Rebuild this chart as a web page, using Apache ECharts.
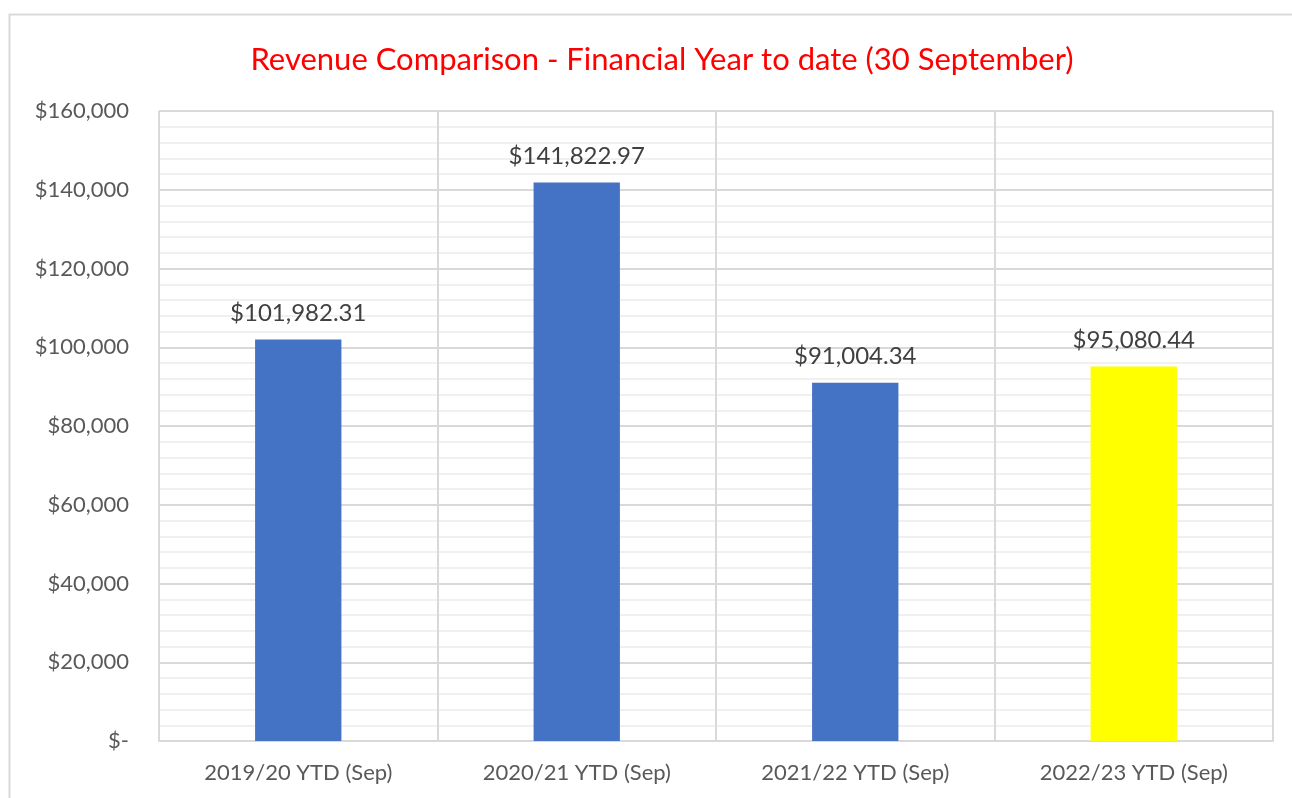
<!DOCTYPE html>
<html>
<head>
<meta charset="utf-8">
<script src="https://cdn.jsdelivr.net/npm/echarts@6/dist/echarts.min.js"></script>
<style>
html,body{margin:0;padding:0;background:#fff;}
#chart{width:1292px;height:798px;}
</style>
</head>
<body>
<div id="chart"></div>
<script>
const categories = ['2019/20 YTD (Sep)', '2020/21 YTD (Sep)', '2021/22 YTD (Sep)', '2022/23 YTD (Sep)'];
const revenue = [101982.31, 141822.97, 91004.34, 95080.44];
const barColors = ['#4472C4', '#4472C4', '#4472C4', '#FFFF00'];
const yTicks = [0, 20000, 40000, 60000, 80000, 100000, 120000, 140000, 160000];
const titleText = 'Revenue Comparison - Financial Year to date (30 September)';

const FONT = 'Lato, "Open Sans", sans-serif';
const fmtMoney = v => '$' + v.toLocaleString('en-US', {minimumFractionDigits: 2, maximumFractionDigits: 2});
const fmtAxis = v => v === 0 ? '$-' : '$' + v.toLocaleString('en-US');

const chart = echarts.init(document.getElementById('chart'), null, {renderer: 'canvas'});
chart.setOption({
  animation: false,
  backgroundColor: '#fff',
  graphic: [{
    type: 'rect',
    shape: {x: 9.5, y: 14.5, width: 1300, height: 800},
    style: {fill: 'none', stroke: '#d9d9d9', lineWidth: 2},
    silent: true,
    z: -1
  }],
  title: {
    text: titleText,
    left: 657,
    textAlign: 'center',
    top: 39,
    textStyle: {color: '#FF0000', fontFamily: FONT, fontSize: 31, fontWeight: 'normal'}
  },
  grid: {left: 159, right: 19, top: 111, bottom: 57, show: true, borderColor: '#d9d9d9', borderWidth: 1},
  xAxis: {
    type: 'category',
    data: categories,
    axisLine: {show: true, lineStyle: {color: '#d9d9d9', width: 2}},
    axisTick: {show: false},
    splitLine: {show: true, lineStyle: {color: '#d9d9d9', width: 2}},
    axisLabel: {color: '#595959', fontFamily: FONT, fontSize: 22, margin: 21}
  },
  yAxis: {
    type: 'value',
    min: yTicks[0],
    max: yTicks[yTicks.length - 1],
    interval: yTicks[1] - yTicks[0],
    axisLine: {show: false},
    axisTick: {show: false},
    splitLine: {show: true, lineStyle: {color: '#d9d9d9', width: 2}},
    minorTick: {show: false, splitNumber: 5},
    minorSplitLine: {show: true, lineStyle: {color: '#f0f0f0', width: 2}},
    axisLabel: {color: '#595959', fontFamily: FONT, fontSize: 22, margin: 30, formatter: fmtAxis}
  },
  series: [{
    type: 'bar',
    data: revenue.map((v, i) => ({value: v, itemStyle: {color: barColors[i]}})),
    barWidth: '31%',
    label: {
      show: true,
      position: 'top',
      distance: 14,
      color: '#404040',
      fontFamily: FONT,
      fontSize: 24,
      formatter: p => fmtMoney(p.value)
    }
  }]
});
</script>
</body>
</html>
